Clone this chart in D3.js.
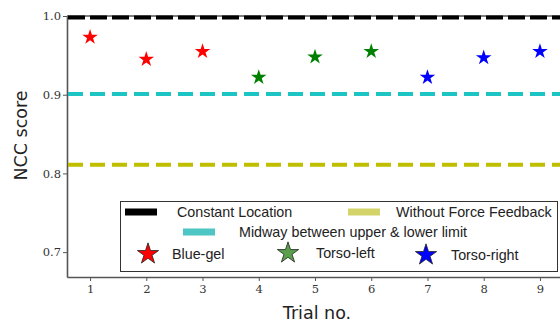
<!DOCTYPE html>
<html><head><meta charset="utf-8">
<script src="https://cdn.jsdelivr.net/npm/d3@7"></script>
<style>body{margin:0;background:#fff}svg{display:block}</style>
</head><body>
<svg id="c" width="560" height="326"></svg>
<script>
const trials = [1,2,3,4,5,6,7,8,9];
const groups = ["Blue-gel","Blue-gel","Blue-gel","Torso-left","Torso-left","Torso-left","Torso-right","Torso-right","Torso-right"];
const scores = [0.973,0.945,0.955,0.922,0.948,0.955,0.922,0.947,0.955];
const yTicks = [0.7,0.8,0.9,1.0];
const refNames = ["Constant Location","Midway between upper & lower limit","Without Force Feedback"];
const refValues = [1.0,0.901,0.811];
const groupNames = ["Blue-gel","Torso-left","Torso-right"];

const svg = d3.select("#c");
const L=67, R=563, T=16, B=277;
const x = d3.scaleLinear().domain([0.59,9.41]).range([L,R]);
const y = d3.scaleLinear().domain([0.6684,1.0]).range([B,T]);
const refColor = {"Constant Location":"#000","Midway between upper & lower limit":"#1cc4c4","Without Force Feedback":"#bfbf00"};
const refLegend = {"Constant Location":"#000","Midway between upper & lower limit":"#4ec6c4","Without Force Feedback":"#d3d36a"};
const refDash = {"Constant Location":"17,5","Midway between upper & lower limit":"15,7","Without Force Feedback":"15,7"};
const gColor = {"Blue-gel":"#ff0000","Torso-left":"#008000","Torso-right":"#0000ff"};
const gLegend = {"Blue-gel":"#ff0000","Torso-left":"#5aa04a","Torso-right":"#0000ff"};

// axes
const ya = svg.append("g").attr("transform",`translate(${L},0)`)
  .call(d3.axisLeft(y).tickValues(yTicks).tickFormat(d3.format(".1f")).tickSize(4).tickSizeOuter(0));
const xa = svg.append("g").attr("transform",`translate(0,${B})`)
  .call(d3.axisBottom(x).tickValues(trials).tickFormat(d3.format("d")).tickSize(4).tickSizeOuter(0));
[ya,xa].forEach(a=>{
  a.select(".domain").attr("stroke","#555").attr("stroke-width",1.6);
  a.selectAll(".tick line").attr("stroke","#555").attr("stroke-width",1);
  a.selectAll("text").attr("font-family","'DejaVu Serif', 'Liberation Serif', serif").attr("font-size",11.5).attr("fill","#333");
});
ya.selectAll("text").attr("x",-6);
xa.selectAll("text").attr("y",8);
// top spine
svg.append("line").attr("x1",L).attr("x2",R).attr("y1",y(1.0)).attr("y2",y(1.0)).attr("stroke","#555").attr("stroke-width",1.6);

// reference lines
refNames.forEach((n,i)=>{
  const yy = y(refValues[i])+(i===0?1.5:0);
  svg.append("line").attr("x1",L+1).attr("x2",R).attr("y1",yy).attr("y2",yy)
    .attr("stroke",refColor[n]).attr("stroke-width",4).attr("stroke-dasharray",refDash[n]);
});

// stars
const star = d3.symbol().type(d3.symbolStar);
svg.append("g").selectAll("path").data(trials).join("path")
  .attr("d",star.size(75)())
  .attr("transform",(d,i)=>`translate(${x(d)},${y(scores[i])})`)
  .attr("fill",(d,i)=>gColor[groups[i]]);

// labels
svg.append("text").attr("transform",`translate(27,135.5) rotate(-90)`).attr("text-anchor","middle")
  .attr("font-family","'DejaVu Sans', sans-serif").attr("font-size",17.5).attr("fill","#222").text("NCC score");
svg.append("text").attr("x",x(5)+2).attr("y",319).attr("text-anchor","middle")
  .attr("font-family","'DejaVu Sans', sans-serif").attr("font-size",17.5).attr("fill","#222").text("Trial no.");

// legend
const lg = svg.append("g");
lg.append("rect").attr("x",120.5).attr("y",201.5).attr("width",437).attr("height",70).attr("fill","#fff").attr("stroke","#333").attr("stroke-width",1);
const lf = "'Liberation Sans', Arial, sans-serif";
const refPos = [[125,212,177],[183,232,239],[348,212,396]];
refNames.forEach((n,i)=>{
  const [px,py,tx]=refPos[i];
  lg.append("rect").attr("x",px).attr("y",py-3.5).attr("width",32).attr("height",7).attr("fill",refLegend[n]);
  lg.append("text").attr("x",tx).attr("y",py+5).attr("font-family",lf).attr("font-size",14.3).attr("fill","#222").text(n);
});
const gPos = [[148,254,172],[288,253,316],[426,255,451]];
groupNames.forEach((n,i)=>{
  const [px,py,tx]=gPos[i];
  lg.append("path").attr("d",d3.symbol().type(d3.symbolStar).size(140)()).attr("transform",`translate(${px},${py})`)
    .attr("fill",gLegend[n]).attr("stroke","#222").attr("stroke-width",0.8);
  lg.append("text").attr("x",tx).attr("y",py+5).attr("font-family",lf).attr("font-size",14.3).attr("fill","#222").text(n);
});
</script>
</body></html>
